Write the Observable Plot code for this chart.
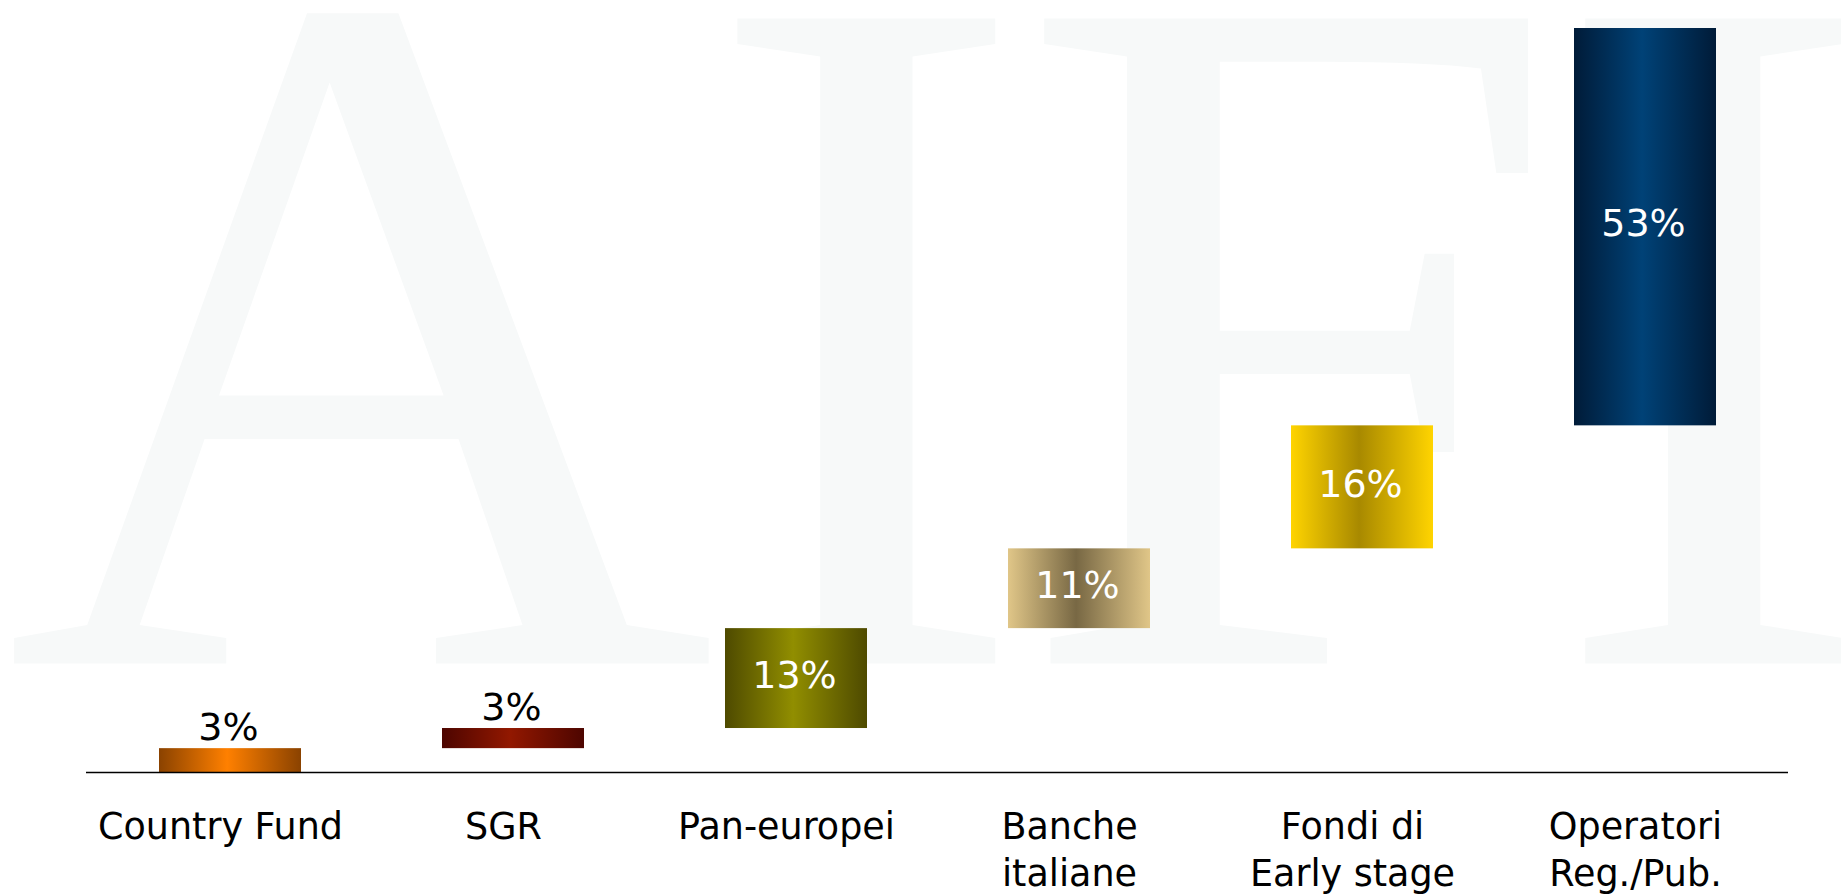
<!DOCTYPE html>
<html><head><meta charset="utf-8">
<script src="https://cdn.jsdelivr.net/npm/d3@7"></script>
<script src="https://cdn.jsdelivr.net/npm/@observablehq/plot@0.6"></script>
<style>
html,body{margin:0;padding:0;background:#fff;}
#chart{width:1841px;height:896px;overflow:hidden;}
</style></head><body><div id="chart"></div>
<script>
// ---- data ----
const categories = ["Country Fund", "SGR", "Pan-europei", "Banche\nitaliane", "Fondi di\nEarly stage", "Operatori\nReg./Pub."];
const shares = [3.2, 2.7, 13.4, 10.7, 16.5, 53.3];
const shareLabels = ["3%", "3%", "13%", "11%", "16%", "53%"];
const watermark = "AIFI";
// ---- gradient colours (edge -> centre -> edge) ----
const edgeColors = ["#8a4200", "#4d0500", "#4e4a00", "#e0c688", "#ffd400", "#001b38"];
const centerColors = ["#ff8000", "#921800", "#918e00", "#786844", "#a88900", "#004277"];

let acc = 0;
const rows = categories.map((c, i) => {
  const y1 = acc; acc += shares[i];
  return {cat: c, i, share: shares[i], y1, y2: acc, label: shareLabels[i], grad: `url(#bargrad-${i})`};
});
const total = d3.sum(shares);

const font = "DejaVu Sans, Verdana, sans-serif";
const chart = Plot.plot({
  width: 1841,
  height: 896,
  marginLeft: 86,
  marginRight: 53,
  marginTop: 28,
  marginBottom: 124,
  style: {fontFamily: font, fontSize: "36.5px", color: "black", background: "transparent"},
  x: {domain: categories, paddingInner: 0.5, paddingOuter: 0.25, axis: null},
  y: {domain: [0, total], axis: null},
  color: {type: "identity"},
  marks: [
    Plot.text([watermark], {frameAnchor: "bottom-left", textAnchor: "start", lineAnchor: "bottom",
      fontSize: 985, fontFamily: "Liberation Serif, Times New Roman, serif", fill: "#f7f9f9", dx: -82, dy: -109}),
    Plot.barY(rows, {x: "cat", y1: "y1", y2: "y2", fill: "grad"}),
    Plot.text(rows.filter(d => d.share >= 10), {x: "cat", y: d => (d.y1 + d.y2) / 2, text: "label",
      fill: "white", fontSize: 38, fontFamily: font, dx: -2, dy: -3}),
    Plot.text(rows.filter(d => d.share < 10), {x: "cat", y: "y2", text: "label", lineAnchor: "bottom",
      dy: -9, fill: "black", fontSize: 38, fontFamily: font, dx: -2}),
    Plot.ruleY([0], {stroke: "black", strokeWidth: 1.5}),
    Plot.axisX({tickSize: 0, tickPadding: 33, lineHeight: 1.29, dx: -10, label: null, fill: "black"})
  ]
});

const defs = d3.select(chart).insert("defs", ":first-child");
rows.forEach(d => {
  const g = defs.append("linearGradient").attr("id", `bargrad-${d.i}`)
    .attr("x1", "0%").attr("x2", "100%").attr("y1", "0%").attr("y2", "0%");
  g.append("stop").attr("offset", "0%").attr("stop-color", edgeColors[d.i]);
  g.append("stop").attr("offset", "48%").attr("stop-color", centerColors[d.i]);
  g.append("stop").attr("offset", "100%").attr("stop-color", edgeColors[d.i]);
});
d3.select(chart).selectAll("text").filter(function() { return this.textContent === watermark; })
  .attr("letter-spacing", -14);

document.getElementById("chart").appendChild(chart);
</script>
</body></html>
